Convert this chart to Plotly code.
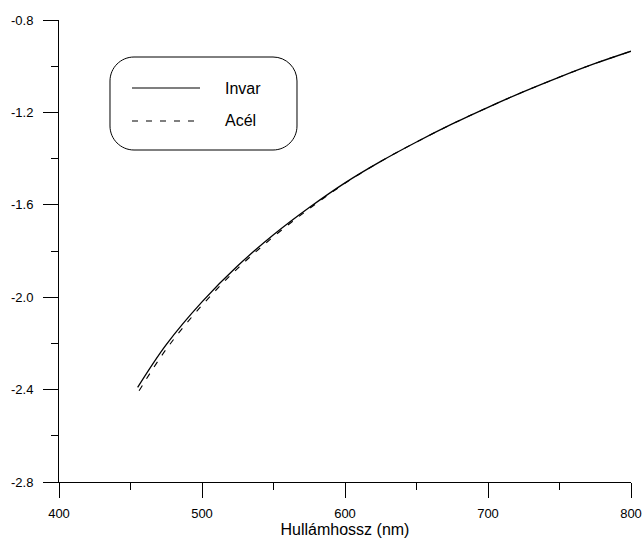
import plotly.graph_objects as go

# ---- data ----
invar_nm = [455, 475, 500, 525, 550, 575, 600, 625, 650, 675, 700, 725, 750, 775, 800]
invar_val = [-2.39, -2.205, -2.02, -1.864, -1.73, -1.612, -1.505, -1.412, -1.328, -1.25, -1.178, -1.11, -1.047, -0.988, -0.935]
acel_nm = [456, 475, 500, 525, 550, 575, 600, 625, 650, 675, 700, 725, 750, 775, 800]
acel_val = [-2.405, -2.225, -2.035, -1.875, -1.738, -1.617, -1.507, -1.412, -1.328, -1.25, -1.178, -1.11, -1.047, -0.988, -0.935]

x_tickvals = [400, 500, 600, 700, 800]
x_ticktext = ["400", "500", "600", "700", "800"]
y_tickvals = [-2.8, -2.4, -2.0, -1.6, -1.2, -0.8]
y_ticktext = ["-2.8", "-2.4", "-2.0", "-1.6", "-1.2", "-0.8"]
series_names = ["Invar", "Acél"]
x_title = "Hullámhossz (nm)"

FONT = "Liberation Sans, Arial, sans-serif"
OFF = 0  # body margin removed by post_script
W, H = 642 - OFF, 540 - OFF
ML, MR, MT, MB = 59 - OFF, 11, 20 - OFF, 58
PW, PH = W - ML - MR, H - MT - MB
DASH = "6px,8px"


def px2paper(x, y):
    # x, y given in screen pixels
    return (x - OFF - ML) / PW, (H - MB - (y - OFF)) / PH


fig = go.Figure()
fig.add_trace(go.Scatter(x=invar_nm, y=invar_val, mode="lines", name=series_names[0],
                         line=dict(color="black", width=1.3, shape="spline", smoothing=1.0), showlegend=False))
fig.add_trace(go.Scatter(x=acel_nm, y=acel_val, mode="lines", name=series_names[1],
                         line=dict(color="black", width=1.1, dash=DASH, shape="spline", smoothing=1.0), showlegend=False))

# ---- custom rounded legend box ----
bx0, bx1, by0, by1, r = 110, 297, 57, 150, 24
k = 0.5523 * r


def P(x, y):
    a, b = px2paper(x, y)
    return f"{a:.5f},{b:.5f}"


path = (f"M {P(bx0 + r, by0)} L {P(bx1 - r, by0)} "
        f"C {P(bx1 - r + k, by0)} {P(bx1, by0 + r - k)} {P(bx1, by0 + r)} "
        f"L {P(bx1, by1 - r)} "
        f"C {P(bx1, by1 - r + k)} {P(bx1 - r + k, by1)} {P(bx1 - r, by1)} "
        f"L {P(bx0 + r, by1)} "
        f"C {P(bx0 + r - k, by1)} {P(bx0, by1 - r + k)} {P(bx0, by1 - r)} "
        f"L {P(bx0, by0 + r)} "
        f"C {P(bx0, by0 + r - k)} {P(bx0 + r - k, by0)} {P(bx0 + r, by0)} Z")
fig.add_shape(type="path", path=path, xref="paper", yref="paper",
              line=dict(color="black", width=1), fillcolor="white", layer="above")

for i, (ly, dash) in enumerate([(88, "solid"), (121, DASH)]):
    x0p, y0p = px2paper(132, ly)
    x1p, _ = px2paper(200, ly)
    fig.add_shape(type="line", xref="paper", yref="paper", x0=x0p, x1=x1p, y0=y0p, y1=y0p,
                  line=dict(color="black", width=1.1, dash=dash))
    tx, ty = px2paper(223, ly)
    fig.add_annotation(xref="paper", yref="paper", x=tx, y=ty, text=series_names[i],
                       showarrow=False, xanchor="left", yanchor="middle",
                       font=dict(family=FONT, size=16, color="black"))

axis_common = dict(showline=True, linecolor="black", linewidth=1, showgrid=False, zeroline=False,
                   ticks="outside", ticklen=15, tickcolor="black", tickwidth=1, automargin=False,
                   tickfont=dict(family=FONT, size=13, color="black"), mirror=False)

fig.update_xaxes(range=[400, 800], tickmode="array", tickvals=x_tickvals, ticktext=x_ticktext,
                 minor=dict(tickmode="linear", tick0=400, dtick=50, ticks="outside", ticklen=7,
                            tickcolor="black", tickwidth=1),
                 title=dict(text=x_title, font=dict(family=FONT, size=16, color="black"), standoff=2),
                 ticklabelstandoff=4, **axis_common)
fig.update_yaxes(range=[-2.8, -0.8], tickmode="array", tickvals=y_tickvals, ticktext=y_ticktext,
                 minor=dict(tickmode="linear", tick0=-2.8, dtick=0.2, ticks="outside", ticklen=7,
                            tickcolor="black", tickwidth=1),
                 ticklabelstandoff=7, **axis_common)

fig.update_layout(width=W, height=H, margin=dict(l=ML, r=MR, t=MT, b=MB),
                  plot_bgcolor="white", paper_bgcolor="white", font=dict(family=FONT))
fig.write_html("out.html", config={"displayModeBar": False},
               post_script="document.body.style.margin='0';document.body.style.overflow='hidden';")
